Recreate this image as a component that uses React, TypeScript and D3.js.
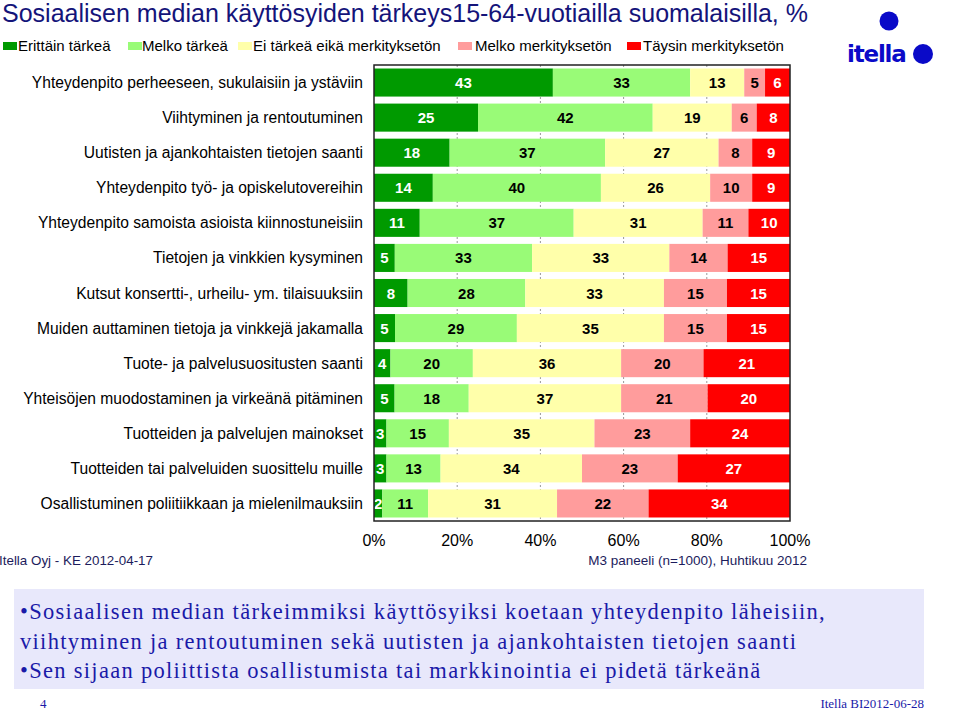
import React from "react";
import * as d3 from "d3";

const categories = [
  "Yhteydenpito perheeseen, sukulaisiin ja ystäviin",
  "Viihtyminen ja rentoutuminen",
  "Uutisten ja ajankohtaisten tietojen saanti",
  "Yhteydenpito työ- ja opiskelutovereihin",
  "Yhteydenpito samoista asioista kiinnostuneisiin",
  "Tietojen ja vinkkien kysyminen",
  "Kutsut konsertti-, urheilu- ym. tilaisuuksiin",
  "Muiden auttaminen tietoja ja vinkkejä jakamalla",
  "Tuote- ja palvelusuositusten saanti",
  "Yhteisöjen muodostaminen ja virkeänä pitäminen",
  "Tuotteiden ja palvelujen mainokset",
  "Tuotteiden tai palveluiden suosittelu muille",
  "Osallistuminen poliitiikkaan ja mielenilmauksiin",
];

const seriesNames = [
  "Erittäin tärkeä",
  "Melko tärkeä",
  "Ei tärkeä eikä merkityksetön",
  "Melko merkityksetön",
  "Täysin merkityksetön",
];

const erittain = [43, 25, 18, 14, 11, 5, 8, 5, 4, 5, 3, 3, 2];
const melko = [33, 42, 37, 40, 37, 33, 28, 29, 20, 18, 15, 13, 11];
const eiTarkea = [13, 19, 27, 26, 31, 33, 33, 35, 36, 37, 35, 34, 31];
const melkoMerk = [5, 6, 8, 10, 11, 14, 15, 15, 20, 21, 23, 23, 22];
const taysin = [6, 8, 9, 9, 10, 15, 15, 15, 21, 20, 24, 27, 34];

const tickValues = [0, 20, 40, 60, 80, 100];

const colors = ["#009a00", "#99fb77", "#ffffaa", "#ff9c9c", "#ff0000"];
const textColors = ["#ffffff", "#000000", "#000000", "#000000", "#ffffff"];

const SANS = "'Liberation Sans', Arial, Helvetica, sans-serif";
const SERIF = "'Liberation Serif', 'Times New Roman', serif";

export default function App() {
  const W = 960;
  const H = 712;
  const left = 374;
  const right = 790;
  const top = 65;
  const bottom = 521;

  const x = d3.scaleLinear().domain([0, 100]).range([left, right]);
  const y = d3
    .scaleBand<string>()
    .domain(categories)
    .range([top, bottom])
    .paddingInner(0.2)
    .paddingOuter(0.1);

  const table = categories.map((c, i) => ({
    cat: c,
    v0: erittain[i],
    v1: melko[i],
    v2: eiTarkea[i],
    v3: melkoMerk[i],
    v4: taysin[i],
  }));
  const stack = d3
    .stack<any>()
    .keys(["v0", "v1", "v2", "v3", "v4"])
    .offset(d3.stackOffsetExpand);
  const layers = stack(table);

  const legendSquareX = [3, 128, 238, 458, 627];
  const legendTextX = [18, 142, 253, 475, 643];

  return (
    <svg width={W} height={H} style={{ position: "absolute", left: 0, top: 0, background: "#fff" }}>
      <rect x={0} y={0} width={W} height={H} fill="#ffffff" />
      {/* title */}
      <text x={2} y={22} fontFamily={SANS} fontSize={25} fill="#14147a">
        Sosiaalisen median käyttösyiden tärkeys15-64-vuotiailla suomalaisilla, %
      </text>
      {/* legend */}
      {seriesNames.map((s, i) => (
        <g key={s}>
          <rect x={legendSquareX[i]} y={42} width={14} height={8} fill={colors[i]} />
          <text x={legendTextX[i]} y={51} fontFamily={SANS} fontSize={15} fill="#000">
            {s}
          </text>
        </g>
      ))}
      {/* logo */}
      <circle cx={889} cy={21} r={9.5} fill="#0a0ac8" />
      <text x={847} y={62} fontFamily="'DejaVu Sans', sans-serif" fontWeight="bold" fontSize={23} fill="#0a0ac8" letterSpacing={-1.2}>
        itella
      </text>
      <circle cx={923} cy={54} r={10} fill="#0a0ac8" />

      {/* gridlines */}
      {tickValues.slice(1, -1).map((t) => (
        <line key={t} x1={x(t)} x2={x(t)} y1={top} y2={bottom} stroke="#999" strokeDasharray="2,2" strokeWidth={1} />
      ))}

      {/* bars */}
      {layers.map((layer, li) => (
        <g key={li}>
          {layer.map((d: any, i: number) => {
            const x0 = x(d[0] * 100);
            const x1 = x(d[1] * 100);
            const yy = y(d.data.cat)!;
            const bw = y.bandwidth();
            const val = (d.data as any)["v" + li];
            return (
              <g key={i}>
                <rect x={x0} y={yy} width={x1 - x0} height={bw} fill={colors[li]} />
                <text
                  x={(x0 + x1) / 2}
                  y={yy + bw / 2 + 5.5}
                  textAnchor="middle"
                  fontFamily={SANS}
                  fontWeight="bold"
                  fontSize={15}
                  fill={textColors[li]}
                >
                  {val}
                </text>
              </g>
            );
          })}
        </g>
      ))}

      {/* frame */}
      <rect x={left} y={top} width={right - left} height={bottom - top} fill="none" stroke="#222" strokeWidth={1.5} />

      {/* category labels */}
      {categories.map((c) => (
        <text
          key={c}
          x={363}
          y={y(c)! + y.bandwidth() / 2 + 5.5}
          textAnchor="end"
          fontFamily={SANS}
          fontSize={15.6}
          fill="#000"
        >
          {c}
        </text>
      ))}

      {/* x ticks */}
      {tickValues.map((t) => (
        <text key={t} x={x(t)} y={546} textAnchor="middle" fontFamily={SANS} fontSize={16} fill="#000">
          {t}%
        </text>
      ))}

      {/* source notes */}
      <text x={-1} y={565} fontFamily={SANS} fontSize={13} fill="#1c1c5c" textLength={154} lengthAdjust="spacingAndGlyphs">
        Itella Oyj - KE 2012-04-17
      </text>
      <text x={807} y={565} textAnchor="end" fontFamily={SANS} fontSize={13.5} fill="#1c1c5c">
        M3 paneeli (n=1000), Huhtikuu 2012
      </text>

      {/* text box */}
      <rect x={14} y={589} width={910} height={100} fill="#e8e8fb" />
      <g fontFamily={SERIF} fontSize={22.5} fill="#1a1aa8" letterSpacing={1.3}>
        <text x={20} y={619}>•Sosiaalisen median tärkeimmiksi käyttösyiksi koetaan yhteydenpito läheisiin,</text>
        <text x={20} y={649}>viihtyminen ja rentoutuminen sekä uutisten ja ajankohtaisten tietojen saanti</text>
        <text x={20} y={678}>•Sen sijaan poliittista osallistumista tai markkinointia ei pidetä tärkeänä</text>
      </g>

      {/* footer */}
      <text x={40} y={708} fontFamily={SERIF} fontSize={13} fill="#1a1aa8">
        4
      </text>
      <text x={924} y={708} textAnchor="end" fontFamily={SERIF} fontSize={13} fill="#1a1aa8">
        Itella BI2012-06-28
      </text>
    </svg>
  );
}
